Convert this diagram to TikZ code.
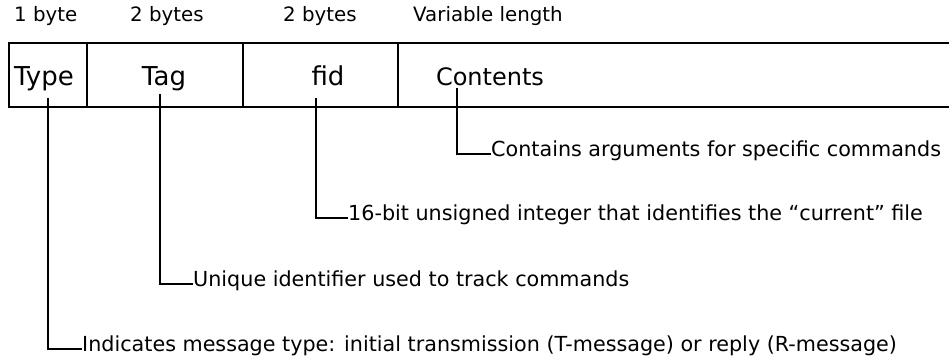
\documentclass[tikz,border=0pt]{standalone}
\usepackage{fontspec}
\setmainfont{DejaVu Sans}
\begin{document}
\begin{tikzpicture}[x=1pt,y=-1pt,
  frame/.style={line width=2.3pt},
  leader/.style={line width=2.1pt},
  sizelbl/.style={font=\fontsize{19.8}{22}\selectfont, anchor=base west, inner sep=0pt},
  celltxt/.style={font=\fontsize{24}{28}\selectfont, anchor=base, inner sep=0pt},
  desc/.style={font=\fontsize{20.7}{24}\selectfont, anchor=west, inner sep=0pt, text height=0.72em, text depth=0.22em}]
\useasboundingbox (0,0) rectangle (949,362);
% size labels
\node[sizelbl] (s1) at (14,21) {1 byte};
\node[sizelbl] (s2) at (130,21) {2 bytes};
\node[sizelbl] (s3) at (283,21) {2 bytes};
\node[sizelbl] (s4) at (413,21) {Variable length};
% frame
\draw[frame] (949,43) -- (9,43) -- (9,107) -- (949,107);
\draw[frame] (87,43) -- (87,107);
\draw[frame] (243,43) -- (243,107);
\draw[frame] (398,43) -- (398,107);
% cell texts
\node[celltxt, font=\fontsize{26}{30}\selectfont] (type) at (44,85) {Type};
\node[celltxt, font=\fontsize{26}{30}\selectfont] (tag) at (164,85) {Tag};
\node[celltxt, font=\fontsize{26}{30}\selectfont] (fid) at (328,85) {fid};
\node[celltxt] (cont) at (490,85) {Contents};
% leader start points
\coordinate (ltype) at (48,98);
\coordinate (ltag) at (160,94);
\coordinate (lfid) at (316,98);
\coordinate (lcont) at (457,88);
% descriptions
\node[desc] (dcont) at (491,154) {Contains arguments for specific commands};
\node[desc] (dfid) at (348,218) {16-bit unsigned integer that identifies the “current” file};
\node[desc] (dtag) at (193,284) {Unique identifier used to track commands};
\node[desc] (dtype) at (82,349) {Indicates message type: initial transmission (T-message) or reply (R-message)};
% leaders
\draw[leader] (lcont) |- (dcont.west);
\draw[leader] (lfid) |- (dfid.west);
\draw[leader] (ltag) |- (dtag.west);
\draw[leader] (ltype) |- (dtype.west);
\end{tikzpicture}
\end{document}
